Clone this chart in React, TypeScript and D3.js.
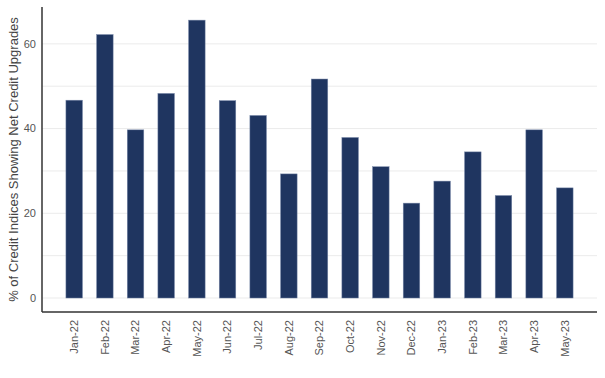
import React from "react";
import * as d3 from "d3";

const categories = ["Jan-22","Feb-22","Mar-22","Apr-22","May-22","Jun-22","Jul-22","Aug-22","Sep-22","Oct-22","Nov-22","Dec-22","Jan-23","Feb-23","Mar-23","Apr-23","May-23"];
const values = [46.7,62.2,39.7,48.3,65.6,46.6,43.1,29.3,51.7,37.9,31.0,22.4,27.6,34.5,24.2,39.7,26.0];
const yTicks = [0,20,40,60];
const gridTicks = [0,10,20,30,40,50,60];

export default function App() {
  const W = 605, H = 378;
  const left = 42, right = 597, top = 7, bottom = 312;
  const x = d3.scaleBand<string>().domain(categories).range([left, right]).paddingInner(0.46).paddingOuter(0.78);
  const y = d3.scaleLinear().domain([-3.3, 68.7]).range([bottom, top]);
  const font = "'Liberation Sans', Arial, sans-serif";
  return (
    <svg width={W} height={H} style={{ position: "absolute", left: 0, top: 0 }}>
      <rect width={W} height={H} fill="#fff" />
      {gridTicks.map(t => (
        <line key={t} x1={left} x2={right} y1={y(t)} y2={y(t)} stroke="#ebebeb" strokeWidth={1} />
      ))}
      {categories.map((c, i) => (
        <rect key={c} x={x(c)} y={y(values[i])} width={x.bandwidth()} height={y(0) - y(values[i])}
          fill="#1f3560" stroke="#7d8cab" strokeWidth={0.5} />
      ))}
      <line x1={left} x2={left} y1={top} y2={bottom} stroke="#333" strokeWidth={1.5} />
      <line x1={left} x2={right} y1={bottom} y2={bottom} stroke="#333" strokeWidth={1.5} />
      {yTicks.map(t => (
        <text key={t} x={36} y={y(t)} dy="0.35em" textAnchor="end" fontSize={11} fill="#555" fontFamily={font}>{t}</text>
      ))}
      {categories.map(c => {
        const cx = (x(c) as number) + x.bandwidth() / 2;
        return (
          <text key={c} transform={`translate(${cx},320) rotate(-90)`} textAnchor="end" dy="0.35em" fontSize={11} fill="#555" fontFamily={font}>{c}</text>
        );
      })}
      <text transform={`translate(13,${(top + bottom) / 2}) rotate(-90)`} textAnchor="middle" dy="0.35em" fontSize={13} fill="#444" fontFamily={font}>% of Credit Indices Showing Net Credit Upgrades</text>
    </svg>
  );
}
